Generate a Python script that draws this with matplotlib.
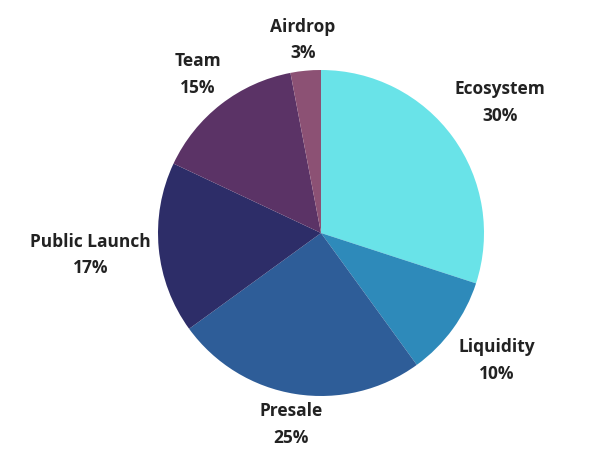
"""Token allocation pie chart"""

import numpy as np
import matplotlib
matplotlib.use("Agg")
import matplotlib.pyplot as plt

# Data
labels = ["Ecosystem", "Liquidity", "Presale", "Public Launch", "Team", "Airdrop"]
shares = [30, 10, 25, 17, 15, 3]
colors = ["#69e3e8", "#2e8aba", "#2e5d98", "#2d2d68", "#5b3366", "#8c5174"]
# distance of each label from the centre (in radii)
label_dist = [1.36, 1.33, 1.19, 1.42, 1.23, 1.19]

fig = plt.figure(figsize=(6.04, 4.57), dpi=100)
ax = fig.add_axes([0, 0, 1, 1])

wedges, _ = ax.pie(shares, colors=colors, startangle=90, counterclock=False,
                   wedgeprops=dict(linewidth=0))

for w, lab, s, d in zip(wedges, labels, shares, label_dist):
    mid = np.radians((w.theta1 + w.theta2) / 2)
    x, y = d * np.cos(mid), d * np.sin(mid)
    ax.text(x, y, f"{lab}\n{s}%", ha="center", va="center",
            fontsize=12.5, fontweight="bold", family="Open Sans",
            color="#222222", linespacing=1.6)

# pixel layout: centre at (321, 233), radius 163 px
ax.set_xlim(-321 / 163, (604 - 321) / 163)
ax.set_ylim(-(457 - 233) / 163, 233 / 163)
ax.axis("off")

fig.savefig("out.png", dpi=100, facecolor="white")
